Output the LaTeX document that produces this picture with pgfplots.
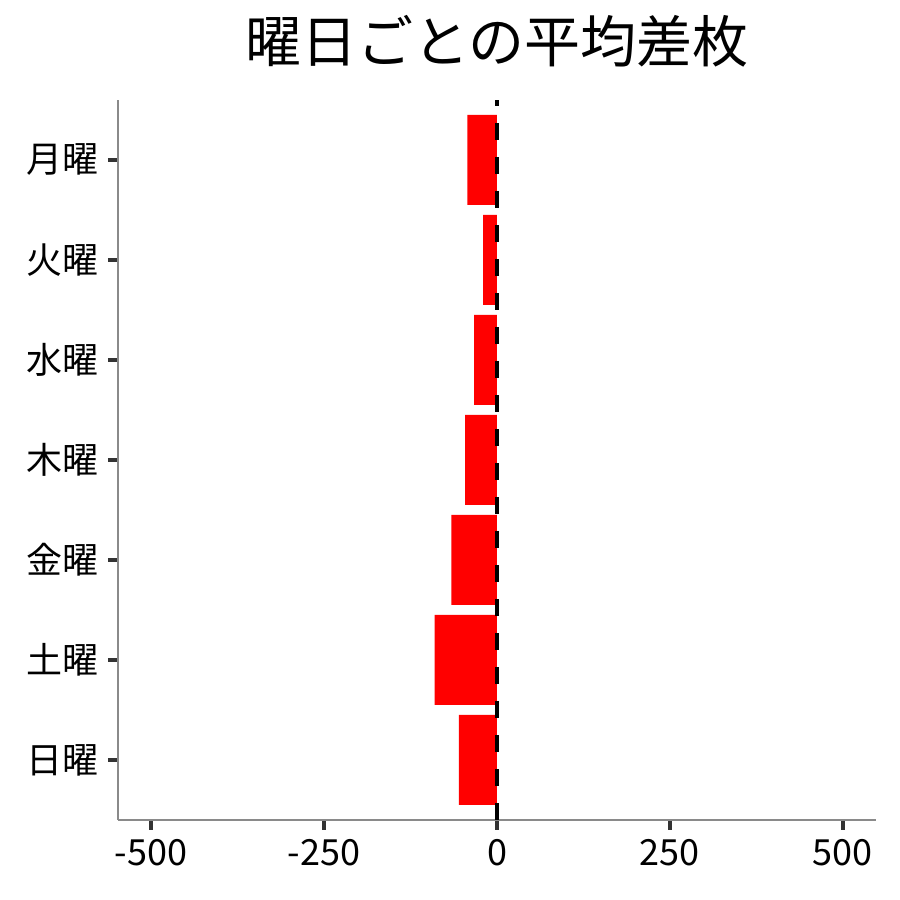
\documentclass[border=0pt]{standalone}
\usepackage{fontspec}
\setmainfont{Noto Sans CJK JP}
\usepackage{pgfplots}
\pgfplotsset{compat=1.18}
\definecolor{axisgray}{HTML}{8A8A8A}
\definecolor{tickgray}{HTML}{333333}

\begin{document}
\begin{tikzpicture}
\useasboundingbox (-59pt,-40pt) rectangle (391pt,410pt);
\begin{axis}[
    at={(0,0)}, anchor=south west,
    scale only axis,
    width=379pt, height=360pt,
    xmin=-548, xmax=548,
    ymin=-0.6, ymax=6.6,
    xtick={-500,-250,0,250,500},
    xticklabels={-500,-250,0,250,500},
    ytick={0,1,2,3,4,5,6},
    yticklabels={日曜,土曜,金曜,木曜,水曜,火曜,月曜},
    axis x line*=bottom, axis y line*=left,
    axis line style={draw=axisgray, line width=0.9pt, -},
    tick align=outside,
    major tick length=5pt,
    tick style={draw=tickgray, line width=2pt},
    tick label style={font=\fontsize{18}{20}\selectfont, text=black},
    xticklabel style={yshift=-1pt},
    yticklabel style={xshift=-1pt},
    title={曜日ごとの平均差枚},
    title style={font=\fontsize{28}{30}\selectfont, at={(0.5,1)}, anchor=center, yshift=23.5pt},
    clip=false,
]
% 平均差枚
\addplot[xbar, bar width=0.9, bar shift=0pt, draw=none, fill=red] coordinates {
    (-55,0) (-90,1) (-66,2) (-46,3) (-33,4) (-20,5) (-43,6)
};
\addplot[sharp plot, black, line width=2pt, dash pattern=on 8.5pt off 8.5pt] coordinates {(0,-0.6) (0,6.6)};
\end{axis}
\end{tikzpicture}
\end{document}
